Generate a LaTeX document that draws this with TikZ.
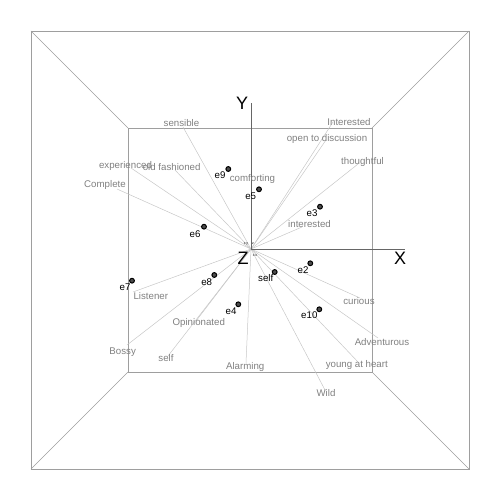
\documentclass[tikz,border=0pt]{standalone}
\usepackage{fontspec}
\setmainfont{Liberation Sans}
\begin{document}
\begin{tikzpicture}[x=1pt,y=-1pt,
  frame/.style={draw=black!38,line width=0.6pt},
  vec/.style={draw=black!22,line width=0.5pt},
  axis/.style={draw=black!60,line width=0.7pt},
  vlab/.style={text=black!50,font=\fontsize{9.7}{10}\selectfont,inner sep=0pt},
  plab/.style={text=black,font=\fontsize{9.7}{10}\selectfont,inner sep=0pt},
  axlab/.style={text=black,font=\fontsize{18}{18}\selectfont,inner sep=0pt},
  tinylab/.style={text=black,font=\fontsize{3.5}{4}\selectfont,inner sep=0pt},
  pt/.style={circle,draw=black,fill=black!70,line width=1pt,minimum size=4.8pt,inner sep=0pt}]
\useasboundingbox (0,0) rectangle (500,500);
% frame box
\coordinate (O1) at (31,31); \coordinate (O2) at (469,31);
\coordinate (O3) at (469,469); \coordinate (O4) at (31,469);
\coordinate (I1) at (128,128); \coordinate (I2) at (372,128);
\coordinate (I3) at (372,372); \coordinate (I4) at (128,372);
\draw[frame] (O1) -- (O2) -- (O3) -- (O4) -- cycle;
\draw[frame] (I1) -- (I2) -- (I3) -- (I4) -- cycle;
\draw[frame] (O1) -- (I1); \draw[frame] (O2) -- (I2);
\draw[frame] (O3) -- (I3); \draw[frame] (O4) -- (I4);
% origin and vector ends
\coordinate (o) at (251,249);
\coordinate (esens) at (183,127);
\coordinate (eexp) at (131,168);
\coordinate (eold) at (175,170);
\coordinate (ecomp) at (117,189);
\coordinate (eInt) at (333,122);
\coordinate (eopen) at (326,140);
\coordinate (ethou) at (358,164);
\coordinate (eint) at (302,227);
\coordinate (elist) at (133,292);
\coordinate (eboss) at (127,345);
\coordinate (eself) at (168,356);
\coordinate (eopin) at (196,321);
\coordinate (ealar) at (246,363);
\coordinate (ecuri) at (360,298);
\coordinate (eadv) at (378,338);
\coordinate (eyoung) at (358,362);
\coordinate (ewild) at (325,390);
\foreach \e in {esens,eexp,eold,ecomp,eInt,eopen,ethou,eint,elist,eboss,eself,eopin,ealar,ecuri,eadv,eyoung,ewild}
  \draw[vec] (o) -- (\e);
% axes
\coordinate (xend) at (405,249);
\coordinate (yend) at (251,103);
\draw[axis] (o) -- (xend);
\draw[axis] (o) -- (yend);
\node[axlab] (X) at (400,258) {X};
\node[axlab] (Y) at (242,103) {Y};
\node[axlab] (Z) at (243,258) {Z};
\node[tinylab] (t1) at (246,244) {x y};
\node[tinylab] (t2) at (253,244) {z};
\node[tinylab] (t3) at (255,256) {x x};
% vector labels
\node[vlab] (lsens) at (181.5,123.5) {sensible};
\node[vlab] (lexp) at (125.5,165.5) {experienced};
\node[vlab] (lold) at (171.7,167.5) {old fashioned};
\node[vlab] (lcomp) at (105,185) {Complete};
\node[vlab] (lInt) at (349,122.5) {Interested};
\node[vlab] (lopen) at (327,139) {open to discussion};
\node[vlab] (lthou) at (362.5,161.7) {thoughtful};
\node[vlab] (lint) at (309.5,224) {interested};
\node[vlab] (lcomf) at (252.5,179) {comforting};
\node[vlab] (llist) at (150.8,295.7) {Listener};
\node[vlab] (lboss) at (122.7,351.7) {Bossy};
\node[vlab] (lself) at (166,358.3) {self};
\node[vlab] (lopin) at (198.8,323.3) {Opinionated};
\node[vlab] (lalar) at (245.2,366.7) {Alarming};
\node[vlab] (lcuri) at (359,301) {curious};
\node[vlab] (ladv) at (382,341.7) {Adventurous};
\node[vlab] (lyoung) at (356.8,365) {young at heart};
\node[vlab] (lwild) at (326,393.3) {Wild};
% points
\node[pt] (p9) at (228.3,169) {};   \node[plab] (q9) at (220,175) {e9};
\node[pt] (p5) at (259,189.3) {};   \node[plab] (q5) at (250.7,196.7) {e5};
\node[pt] (p6) at (204,226.7) {};   \node[plab] (q6) at (195,234) {e6};
\node[pt] (p3) at (320,206.7) {};   \node[plab] (q3) at (312,212.7) {e3};
\node[pt] (p7) at (132,280.7) {};   \node[plab] (q7) at (125,287) {e7};
\node[pt] (p8) at (214.3,275) {};   \node[plab] (q8) at (206.7,282) {e8};
\node[pt] (p4) at (238.3,304.3) {}; \node[plab] (q4) at (231,311) {e4};
\node[pt] (ps) at (274.7,272) {};   \node[plab] (qs) at (265.7,277.7) {self};
\node[pt] (p2) at (310.3,263.3) {}; \node[plab] (q2) at (303,269.7) {e2};
\node[pt] (p10) at (319.3,309.3) {};\node[plab] (q10) at (309.3,314.7) {e10};
\end{tikzpicture}
\end{document}
